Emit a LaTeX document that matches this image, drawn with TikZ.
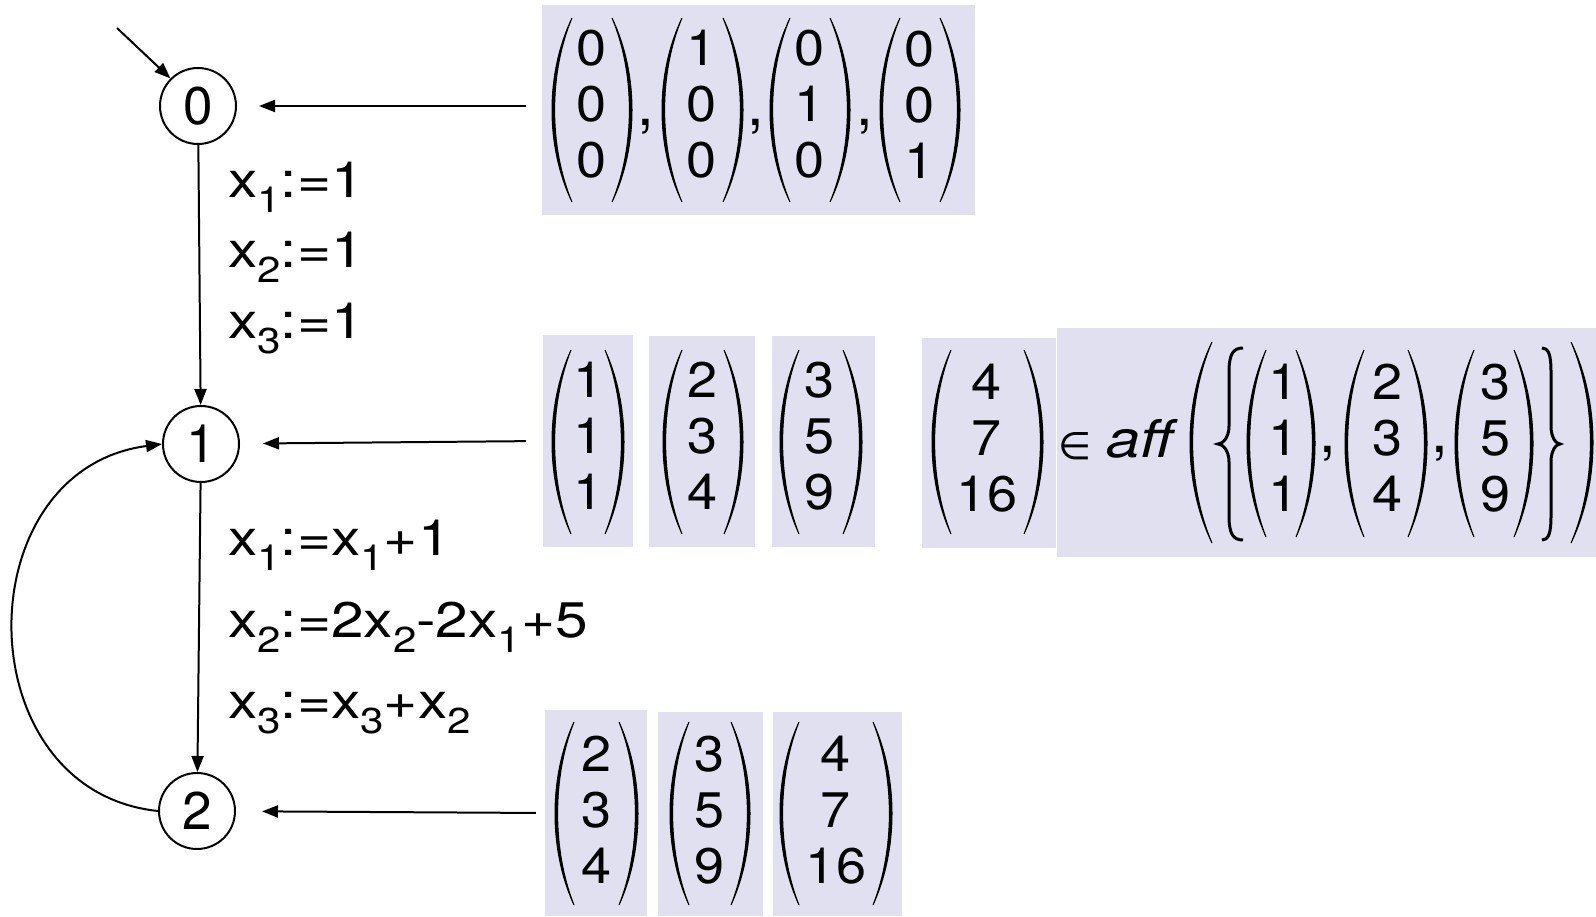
\documentclass[tikz,border=0pt]{standalone}
\usepackage{fontspec}
\setmainfont{TeX Gyre Heros}
\newfontfamily\widefont[FakeStretch=1.17]{TeX Gyre Heros}
\newfontfamily\vecfont[FakeStretch=1.08]{TeX Gyre Heros}
\newfontfamily\dejavu{DejaVu Sans}
\usetikzlibrary{arrows.meta}
\definecolor{boxbg}{RGB}{224,224,240}
\newcommand\sub[1]{\raisebox{-0.3em}{\fontsize{36}{36}\selectfont #1}}
\tikzset{
  state/.style={circle, draw, line width=2pt, minimum size=76pt, inner sep=0pt, font=\fontsize{53}{53}\selectfont},
  arr/.style={line width=2pt, -{Triangle[length=16pt,width=12pt]}},
  lbl/.style={anchor=base west, inner sep=0pt, font=\widefont\fontsize{50}{50}\selectfont},
  vec/.style={align=center, inner sep=0pt, font=\vecfont\fontsize{50}{56}\selectfont},
  bgbox/.style={fill=boxbg, draw=none, inner sep=0pt},
  sym/.style={anchor=base, inner sep=0pt, font=\fontsize{60}{60}\selectfont},
  parfill/.style={fill=black, draw=black, line width=1pt},
  bracestyle/.style={line width=3pt},
}
% left x, right x, top y, bottom y, bulge
\newcommand\parpair[5]{%
  \filldraw[parfill] ({#1+#5},#3) .. controls ({#1-#5/3},{0.7*#3+0.3*#4}) and ({#1-#5/3},{0.3*#3+0.7*#4}) .. ({#1+#5},#4) .. controls ({#1+3.5-#5/3},{0.3*#3+0.7*#4}) and ({#1+3.5-#5/3},{0.7*#3+0.3*#4}) .. ({#1+#5},#3) -- cycle;
  \filldraw[parfill] ({#2-#5},#3) .. controls ({#2+#5/3},{0.7*#3+0.3*#4}) and ({#2+#5/3},{0.3*#3+0.7*#4}) .. ({#2-#5},#4) .. controls ({#2-3.5+#5/3},{0.3*#3+0.7*#4}) and ({#2-3.5+#5/3},{0.7*#3+0.3*#4}) .. ({#2-#5},#3) -- cycle;
}
% point x, vertical x, end x, top y, bottom y, middle y
\newcommand\bracemark[6]{%
  \draw[bracestyle] (#3,#4) .. controls ({#2+0.3*(#3-#2)},#4) and (#2,{#4+6}) .. (#2,{#4+24}) -- (#2,{#6-18}) .. controls (#2,{#6-6}) and ({#1+0.4*(#2-#1)},#6) .. (#1,#6) .. controls ({#1+0.4*(#2-#1)},#6) and (#2,{#6+6}) .. (#2,{#6+18}) -- (#2,{#5-24}) .. controls (#2,{#5-6}) and ({#2+0.3*(#3-#2)},#5) .. (#3,#5);
}
\begin{document}
\begin{tikzpicture}[x=1pt,y=-1pt]
\fill[white] (0,0) rectangle (1596,917);
\useasboundingbox (0,0) rectangle (1596,917);

% background boxes
\node[bgbox, minimum width=433pt, minimum height=210pt] (b0) at (758.5,110) {};
\node[bgbox, minimum width=90pt, minimum height=212pt] (bA) at (588,441) {};
\node[bgbox, minimum width=106pt, minimum height=211pt] (bB) at (702,441.5) {};
\node[bgbox, minimum width=103pt, minimum height=211pt] (bC) at (823.5,441.5) {};
\node[bgbox, minimum width=134pt, minimum height=210pt] (bD) at (989,443) {};
\node[bgbox, minimum width=539pt, minimum height=229pt] (bE) at (1326.5,442.5) {};
\node[bgbox, minimum width=102pt, minimum height=206pt] (bF) at (596,813) {};
\node[bgbox, minimum width=105pt, minimum height=204pt] (bG) at (710.5,814) {};
\node[bgbox, minimum width=129pt, minimum height=204pt] (bH) at (837.5,814) {};

% states
\node[state] (n0) at (198,106) {0};
\node[state] (n1) at (201,444) {1};
\node[state] (n2) at (197,811) {2};

% edges
\coordinate (init) at (117,28);
\draw[arr] (init) -- (n0.135);
\draw[arr] (n0) -- (n1);
\draw[arr] (n1) -- (n2);
\draw[arr] (n2.west) .. controls +(-193,-20) and +(-198,26) .. (n1.west);
\draw[arr, shorten <=16pt, shorten >=22pt] (b0.west |- n0) -- (n0);
\draw[arr, shorten <=17pt, shorten >=23pt] (bA.west) -- (n1);
\draw[arr, shorten <=9pt, shorten >=26pt] (bF.west) -- (n2);

% edge labels
\node[lbl] (l1a) at (228,198) {x\sub{1}:=1};
\node[lbl] (l1b) at (228,268) {x\sub{2}:=1};
\node[lbl] (l1c) at (228,338) {x\sub{3}:=1};
\node[lbl] (l2a) at (228,555) {x\sub{1}:=x\sub{1}+1};
\node[lbl] (l2b) at (228,637) {x\sub{2}:=2x\sub{2}-2x\sub{1}+5};
\node[lbl] (l2c) at (228,718) {x\sub{3}:=x\sub{3}+x\sub{2}};

% top vectors
\parpair{552}{632}{18}{202}{20}
\parpair{662}{743}{18}{202}{20}
\parpair{770}{850}{18}{202}{20}
\parpair{880}{960}{18}{202}{20}
\node[vec] (t1) at (592,104.5) {0\\0\\0};
\node[vec] (t2) at (702,104.5) {1\\0\\0};
\node[vec] (t3) at (810,104.5) {0\\1\\0};
\node[vec] (t4) at (920,104.5) {0\\0\\1};
\node[sym] (tc1) at (646,126) {,};
\node[sym] (tc2) at (756,126) {,};
\node[sym] (tc3) at (865,126) {,};

% middle vectors
\parpair{552}{624}{350}{534}{19}
\parpair{663}{743}{350}{534}{19}
\parpair{780}{862}{350}{534}{19}
\parpair{932}{1043}{350}{534}{19}
\node[vec] (m1) at (589,436) {1\\1\\1};
\node[vec] (m2) at (703,436) {2\\3\\4};
\node[vec] (m3) at (820,436) {3\\5\\9};
\node[vec] (m4) at (987,438) {4\\7\\16};

% affine hull expression
\node[inner sep=0pt, font=\fontsize{38}{38}\selectfont\dejavu] (elem) at (1075,446) {∈};
\node[lbl, font=\widefont\fontsize{52}{52}\selectfont\itshape] (aff) at (1106,457) {aff};
\parpair{1190}{1593}{342}{543}{22}
\bracemark{1218}{1229}{1243}{348}{540}{444}
\bracemark{1560}{1551}{1542}{348}{540}{444}
\parpair{1247}{1315}{350}{537}{19}
\parpair{1345}{1427}{350}{537}{19}
\parpair{1455}{1533}{350}{537}{19}
\node[vec] (a1) at (1283,438) {1\\1\\1};
\node[vec] (a2) at (1387,438) {2\\3\\4};
\node[vec] (a3) at (1495,438) {3\\5\\9};
\node[sym] (ac1) at (1328,452) {,};
\node[sym] (ac2) at (1440,452) {,};

% bottom vectors
\parpair{555}{638}{722}{905}{19}
\parpair{670}{750}{722}{905}{19}
\parpair{780}{892}{722}{905}{19}
\node[vec] (u1) at (597,810) {2\\3\\4};
\node[vec] (u2) at (710,810) {3\\5\\9};
\node[vec] (u3) at (836,810) {4\\7\\16};
\end{tikzpicture}
\end{document}
